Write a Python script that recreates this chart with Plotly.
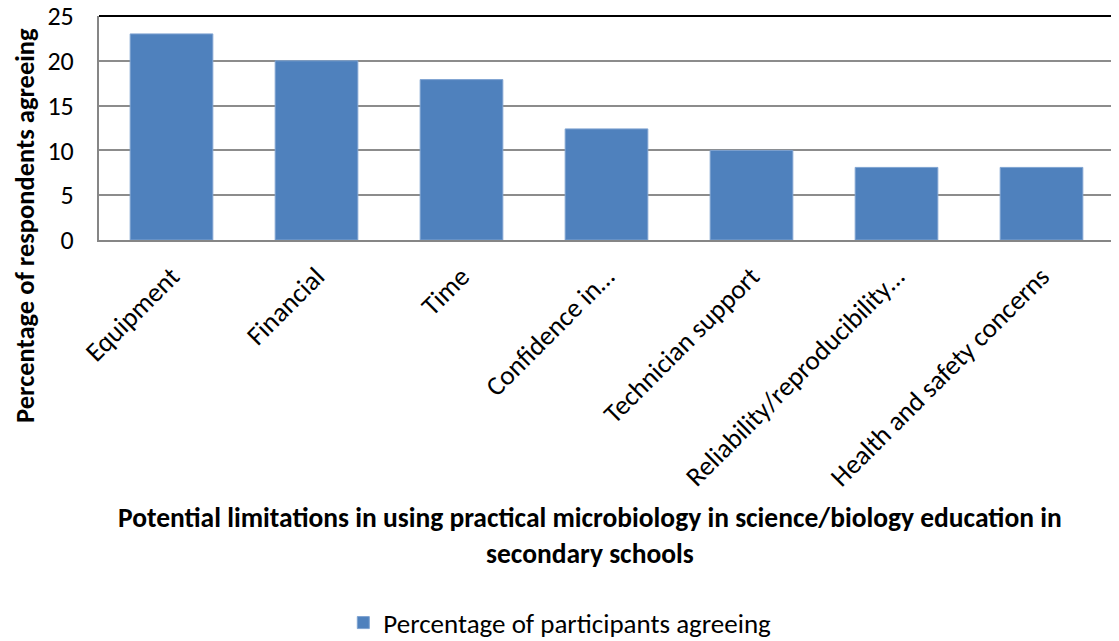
import plotly.graph_objects as go

# Data
categories = ["Equipment", "Financial", "Time", "Confidence in…", "Technician support",
              "Reliability/reproducibility…", "Health and safety concerns"]
values = [23.0, 20.0, 17.9, 12.4, 10.0, 8.1, 8.1]
series_name = "Percentage of participants agreeing"
y_ticks = [0, 5, 10, 15, 20, 25]

font_family = "Carlito, Calibri, 'Noto Sans', 'Open Sans', sans-serif"
bar_color = "#4F81BD"

fig = go.Figure()
fig.add_trace(go.Bar(
    x=categories, y=values, name=series_name,
    marker=dict(color=bar_color, line=dict(color="#7FA3D1", width=1)),
    showlegend=True,
))

# page body has an 8px margin, so the figure is a bit smaller than the window
fig.update_layout(
    width=1111, height=633,
    paper_bgcolor="white", plot_bgcolor="white",
    font=dict(family=font_family, size=26, color="black"),
    margin=dict(l=91, r=5, t=8, b=401, autoexpand=False),
    bargap=0.43,
    xaxis=dict(
        tickangle=-45, showline=True, linecolor="#868686", linewidth=2,
        mirror=False, ticks="", tickfont=dict(size=27), ticklabelstandoff=8,
    ),
    yaxis=dict(
        range=[0, 25], tickvals=y_ticks, showgrid=True, gridcolor="#8C8C8C",
        gridwidth=1.5, showline=True, linecolor="#868686", linewidth=2,
        ticks="", tickfont=dict(size=26), zeroline=False, ticklabelstandoff=18,
        ticklabeloverflow="allow",
    ),
    legend=dict(
        orientation="h", x=0.454, xanchor="center", y=-1.71, yanchor="middle",
        font=dict(size=27),
    ),
    shapes=[
        dict(type="line", xref="paper", yref="paper", x0=0, x1=1, y0=1, y1=1,
             line=dict(color="black", width=2)),
        dict(type="line", xref="paper", yref="paper", x0=1, x1=1, y0=0, y1=1,
             line=dict(color="black", width=2)),
    ],
    annotations=[
        dict(text="<b>Percentage of respondents agreeing</b>", xref="paper", yref="paper",
             x=-0.073, y=0.067, xanchor="center", yanchor="middle", textangle=-90,
             showarrow=False, font=dict(size=26.5)),
        dict(text="<b>Potential limitations in using practical microbiology in science/biology education in<br>secondary schools</b>",
             xref="paper", yref="paper", x=0.484, y=-1.317,
             xanchor="center", yanchor="middle", showarrow=False,
             font=dict(size=27.5), align="center"),
    ],
)

fig.write_html("out.html")
